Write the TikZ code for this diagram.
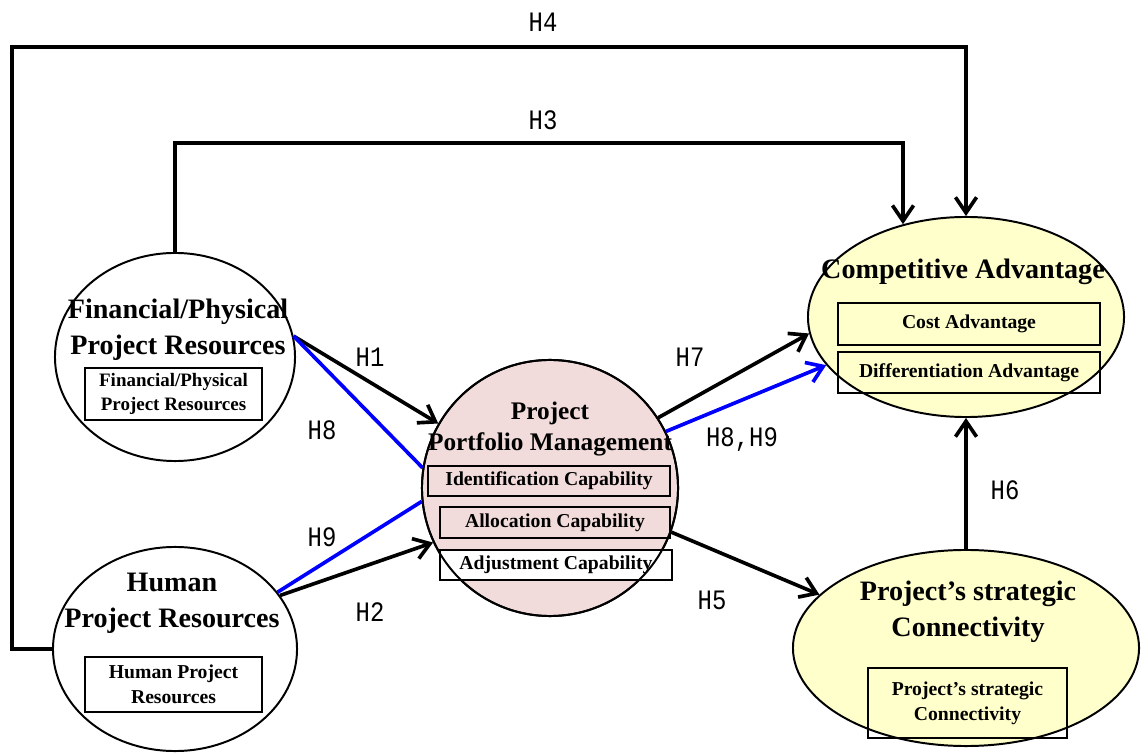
\documentclass[tikz,border=0pt]{standalone}
\usepackage{fontspec}
\setmainfont{Liberation Serif}
\newfontfamily\hlabelfont[FakeStretch=0.85]{Liberation Mono}
\usetikzlibrary{shapes.geometric,arrows.meta}
\definecolor{ppmpink}{RGB}{242,220,219}
\definecolor{advyellow}{RGB}{255,255,204}

\begin{document}
\begin{tikzpicture}[x=0.025cm,y=-0.025cm,
    construct/.style={draw,ellipse,line width=1.4pt,inner sep=0pt},
    title/.style={align=center,font=\fontsize{20}{25.5}\selectfont\bfseries},
    item/.style={draw,line width=1.2pt,align=center,inner sep=0pt,font=\fontsize{14}{17.5}\selectfont\bfseries},
    link/.style={line width=2.6pt,-{Straight Barb[length=11pt,width=15pt]}},
    bluelink/.style={link,blue},
    hyp/.style={font=\hlabelfont\fontsize{20}{20}\selectfont}]
  \useasboundingbox (0,0) rectangle (1144,753);
  % constructs
  \node[construct,minimum width=6cm,minimum height=5.2cm] (fin) at (175,357) {};
  \node[construct,minimum width=6.1cm,minimum height=5.1cm] (hum) at (175,649) {};
  \node[construct,circle,fill=ppmpink,minimum size=6.4cm] (ppm) at (550,488) {};
  \node[construct,fill=advyellow,minimum width=7.9cm,minimum height=5cm] (comp) at (966,317) {};
  \node[construct,fill=advyellow,minimum width=8.65cm,minimum height=4.9cm] (conn) at (966,648) {};
  % titles
  \node[title] (fintitle) at (178,330) {Financial/Physical\\Project Resources};
  \node[title] (humtitle) at (172,603) {Human\\Project Resources};
  \node[title,font=\fontsize{18}{22.5}\selectfont\bfseries] (ppmtitle) at (550,429) {Project\\Portfolio Management};
  \node[title] (comptitle) at (963,272) {Competitive Advantage};
  \node[title] (conntitle) at (968,612) {Project’s strategic\\Connectivity};
  % dimensions
  \node[item,font=\fontsize{13.5}{17}\selectfont\bfseries,minimum width=4.425cm,minimum height=1.3cm] (finbox) at (173.5,394) {Financial/Physical\\Project Resources};
  \node[item,minimum width=4.425cm,minimum height=1.375cm] (humbox) at (173.5,684.5) {Human Project\\Resources};
  \node[item,minimum width=6.05cm,minimum height=0.75cm] (idbox) at (549,481) {Identification Capability};
  \node[item,minimum width=5.75cm,minimum height=0.775cm] (allocbox) at (555,522.5) {Allocation Capability};
  \node[item,fill=white,minimum width=5.8cm,minimum height=0.75cm] (adjbox) at (556,565) {Adjustment Capability};
  \node[construct,circle,minimum size=6.4cm] (ppmring) at (ppm) {};
  \node[item,minimum width=6.55cm,minimum height=1.05cm] (costbox) at (969,324) {Cost Advantage};
  \node[item,minimum width=6.55cm,minimum height=1.025cm] (diffbox) at (969,372.5) {Differentiation Advantage};
  \node[item,minimum width=4.975cm,minimum height=1.75cm] (connbox) at (967.5,703) {Project’s strategic\\Connectivity};
  % hypotheses
  \coordinate (h3turn) at (903,143);
  \coordinate (h4turn) at (966,47);
  \coordinate (h4left) at (12,0);
  \draw[link] (fin.north) |- (h3turn) -- (h3turn |- comp.124);
  \draw[link] (hum.west) -- (hum.west -| h4left) |- (h4turn) -- (comp.north);
  \draw[link] (fin.10) -- (ppm.150);
  \draw[blue,line width=2.6pt] (fin.10) -- (ppm.171);
  \draw[blue,line width=2.6pt] (hum.29) -- (ppm.186);
  \draw[link] (hum.27) -- (ppm.205);
  \draw[link] (ppm.33) -- (comp.186);
  \draw[bluelink] (ppm.26) -- (comp.199);
  \draw[link] (ppm.-20) -- (conn.160);
  \draw[link] (conn.north) -- (comp.south);
  \node[hyp] (h1) at (370,357) {H1};
  \node[hyp] (h2) at (370,612) {H2};
  \node[hyp] (h3) at (543,120) {H3};
  \node[hyp] (h4) at (543,22) {H4};
  \node[hyp] (h5) at (712,600) {H5};
  \node[hyp] (h6) at (1005,490) {H6};
  \node[hyp] (h7) at (690,357) {H7};
  \node[hyp] (h8) at (322,430) {H8};
  \node[hyp] (h9) at (322,537) {H9};
  \node[hyp] (h89) at (742,440) {H8,H9};
\end{tikzpicture}
\end{document}
